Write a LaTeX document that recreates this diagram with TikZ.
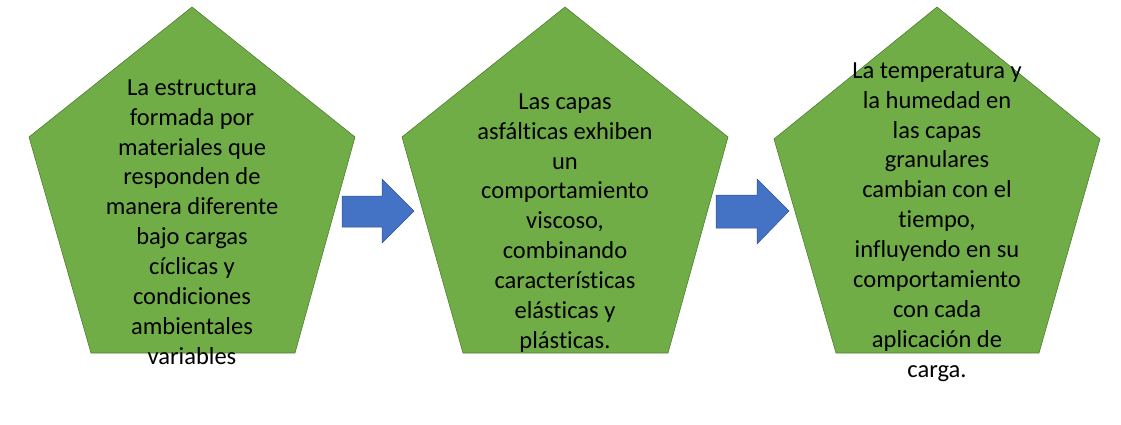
\documentclass[tikz,border=0pt]{standalone}
\usepackage{fontspec}
\setmainfont[RawFeature={-liga}]{Carlito}
\definecolor{pgreen}{HTML}{70AD47}
\definecolor{pgreenb}{HTML}{507E32}
\definecolor{ablue}{HTML}{4472C4}
\definecolor{abluen}{HTML}{2F528F}
\tikzset{
  penta/.style={fill=pgreen, draw=pgreenb, line width=0.6pt},
  barrow/.style={fill=ablue, draw=abluen, line width=0.5pt},
  ptext/.style={align=center, inner sep=0pt, font=\fontsize{24.5}{29.9}\selectfont, text=black}
}
\begin{document}
\begin{tikzpicture}[x=1pt,y=-1pt]
\useasboundingbox (0,0) rectangle (1121,424);
% pentagons
\draw[penta] (192,7) -- (355,137) -- (295,353) -- (91,353) -- (29,137) -- cycle;
\draw[penta] (565,7) -- (728,137) -- (668,353) -- (463,353) -- (402,137) -- cycle;
\draw[penta] (937,7) -- (1100,139) -- (1039,353) -- (836,353) -- (774,139) -- cycle;
% arrows
\draw[barrow] (342,196) -- (382,196) -- (382,179) -- (414,211) -- (382,243) -- (382,227) -- (342,227) -- cycle;
\draw[barrow] (716,195) -- (757,195) -- (757,179) -- (789,211) -- (757,244) -- (757,228) -- (716,228) -- cycle;
% texts
\node[ptext] (t1) at (192,222) {La estructura\\formada por\\materiales que\\responden de\\manera diferente\\bajo cargas\\cíclicas y\\condiciones\\ambientales\\variables};
\node[ptext] (t2) at (565,223) {Las capas\\asfálticas exhiben\\un\\comportamiento\\viscoso,\\combinando\\características\\elásticas y\\plásticas.};
\node[ptext] (t3) at (937,222) {La temperatura y\\la humedad en\\las capas\\granulares\\cambian con el\\tiempo,\\influyendo en su\\comportamiento\\con cada\\aplicación de\\carga.};
\end{tikzpicture}
\end{document}
